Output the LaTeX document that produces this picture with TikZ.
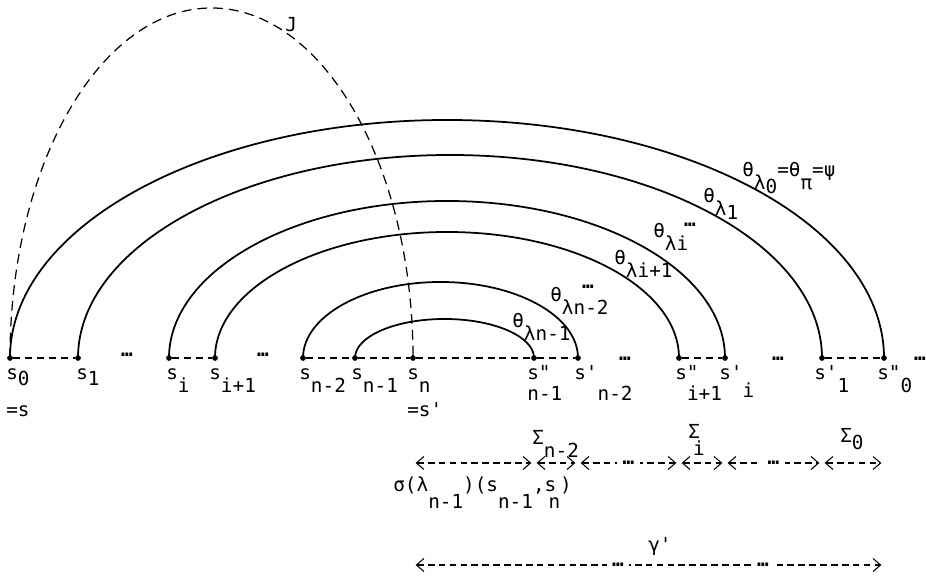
\documentclass[tikz,border=0pt]{standalone}
\usepackage{fontspec}
\setmonofont{DejaVu Sans Mono}
\usetikzlibrary{arrows.meta,calc}
% typewriter style lowered index
\newcommand\tsub[3][1.2ex]{#2\raisebox{-#1}{#3}}
\newcommand\tsubk[4][1.2ex]{#2\kern#3\raisebox{-#1}{#4}}
\newcommand\ddd{\textbf{…}}
\tikzset{
  pnt/.style={circle,draw,fill=black,minimum size=2.8pt,inner sep=0pt},
  bow/.style={line width=1pt},
  jpath/.style={dash pattern=on 5.5pt off 3.5pt,line width=0.7pt},
  track/.style={dash pattern=on 4pt off 2.8pt,line width=0.6pt},
  span/.style={{Straight Barb[length=1.5mm,width=2.6mm]}-{Straight Barb[length=1.5mm,width=2.6mm]},
    dash pattern=on 3.8pt off 2.4pt,line width=0.6pt,shorten <=1.5pt,shorten >=1.5pt},
  lbl/.style={anchor=base west,inner sep=0pt},
  ell/.style={inner sep=0pt},
  dotgap/.style={ell,fill=white,inner xsep=3pt}
}

\begin{document}
\begin{tikzpicture}[scale=1.0,every node/.style={font=\ttfamily\fontsize{11}{13}\selectfont}]
  \useasboundingbox (0,0) rectangle (18.52,11.56);
  % states on the path, left half
  \node[pnt] (s0)  at (0.20,4.40) {};
  \node[pnt] (s1)  at (1.56,4.40) {};
  \node[pnt] (si)  at (3.38,4.40) {};
  \node[pnt] (si1) at (4.30,4.40) {};
  \node[pnt] (sn2) at (6.06,4.40) {};
  \node[pnt] (sn1) at (7.10,4.40) {};
  \node[pnt] (sn)  at (8.26,4.40) {};
  % states on the path, right half
  \node[pnt] (un1) at (10.68,4.40) {};
  \node[pnt] (un2) at (11.56,4.40) {};
  \node[pnt] (ui1) at (13.58,4.40) {};
  \node[pnt] (ui)  at (14.50,4.40) {};
  \node[pnt] (u1)  at (16.44,4.40) {};
  \node[pnt] (u0)  at (17.68,4.40) {};
  % dashed pieces of the base line
  \draw[track] (s0) -- (s1);
  \draw[track] (si) -- (si1);
  \draw[track] (sn2) -- (sn1) -- (sn) -- (un1) -- (un2);
  \draw[track] (ui1) -- (ui);
  \draw[track] (u1) -- (u0);
  \node[ell] at (2.54,4.46) {\ddd};
  \node[ell] at (5.26,4.46) {\ddd};
  \node[ell] at (12.50,4.38) {\ddd};
  \node[ell] at (15.56,4.38) {\ddd};
  \node[ell] at (18.40,4.38) {\ddd};
  % nested arcs theta_lambda
  \foreach \a/\b/\h in {s0/u0/4.76,s1/u1/4.06,si/ui/3.14,si1/ui1/2.52,sn2/un2/1.52,sn1/un1/0.78}
    \draw[bow] let \p1=(\a), \p2=(\b) in
      (\a.center) arc[start angle=180,end angle=0,x radius={0.5*(\x2-\x1)},y radius=\h cm];
  % the dashed run J
  \draw[jpath] let \p1=(s0), \p2=(sn) in
    (s0.center) arc[start angle=180,end angle=0,x radius={0.5*(\x2-\x1)},y radius=7.0cm];
  \node[lbl] at (5.70,10.92) {J};
  % arc labels
  \node[lbl] at (14.84,8.02) {\tsub{θ}{\tsub[0.4ex]{λ}{0}}=\tsub{θ}{π}=ψ};
  \node[lbl] at (14.06,7.50) {\tsub{θ}{\tsub[0.4ex]{λ}{1}}};
  \node[ell] at (13.80,7.06) {\ddd};
  \node[lbl] at (13.06,6.80) {\tsub{θ}{λi}};
  \node[lbl] at (12.28,6.26) {\tsub{θ}{λi+1}};
  \node[ell] at (11.76,5.82) {\ddd};
  \node[lbl] at (11.00,5.52) {\tsub{θ}{λn-2}};
  \node[lbl] at (10.24,5.00) {\tsub{θ}{λn-1}};
  % state labels
  \node[lbl] at (0.12,3.96) {\tsub[0.5ex]{s}{0}};
  \node[lbl] at (1.52,3.96) {\tsub[0.5ex]{s}{1}};
  \node[lbl] at (3.32,3.96) {\tsub{s}{i}};
  \node[lbl] at (4.18,3.96) {\tsub{s}{i+1}};
  \node[lbl] at (5.98,3.96) {\tsub{s}{n-2}};
  \node[lbl] at (7.02,3.96) {\tsub{s}{n-1}};
  \node[lbl] at (8.14,3.96) {\tsub{s}{n}};
  \node[lbl] at (0.12,3.22) {=s};
  \node[lbl] at (8.14,3.22) {=s'};
  \node[lbl] at (10.54,3.96) {\tsubk[1.9ex]{s"}{-1.2em}{n-1}};
  \node[lbl] at (11.48,3.96) {\tsub[1.9ex]{s'}{n-2}};
  \node[lbl] at (13.50,3.96) {\tsubk[1.9ex]{s"}{-0.6em}{i+1}};
  \node[lbl] at (14.38,3.96) {\tsub[1.7ex]{s'}{i}};
  \node[lbl] at (16.28,3.96) {\tsub{s'}{1}};
  \node[lbl] at (17.54,3.96) {\tsub{s"}{0}};
  % pieces of the run below
  \coordinate (row) at (0,2.30);
  \coordinate (low) at (0,0.26);
  \draw[span] (sn |- row) -- (un1 |- row);
  \draw[span] (un1 |- row) -- (un2 |- row);
  \draw[span] (un2 |- row) -- node[dotgap] {\ddd} (ui1 |- row);
  \draw[span] (ui1 |- row) -- (ui |- row);
  \draw[span] (ui |- row) -- node[dotgap] {\ddd} (u1 |- row);
  \draw[span] (u1 |- row) -- (u0 |- row);
  \node[lbl] at (10.64,2.66) {\tsub{Σ}{n-2}};
  \node[lbl] at (13.76,2.78) {\tsubk[1.55ex]{Σ}{-0.35em}{i}};
  \node[lbl] at (16.80,2.70) {\tsub[0.6ex]{Σ}{0}};
  \node[lbl] at (7.86,1.72) {σ(\tsub[1.6ex]{λ}{n-1})(\tsub[1.6ex]{s}{n-1},\tsubk[1.6ex]{s}{-0.4em}{n})};
  % the whole run gamma'
  \draw[span] (sn |- low) -- node[dotgap,pos=0.435] {\ddd} node[dotgap,pos=0.743] {\ddd} (u0 |- low);
  \node[lbl] at (12.96,0.52) {γ'};
\end{tikzpicture}
\end{document}
